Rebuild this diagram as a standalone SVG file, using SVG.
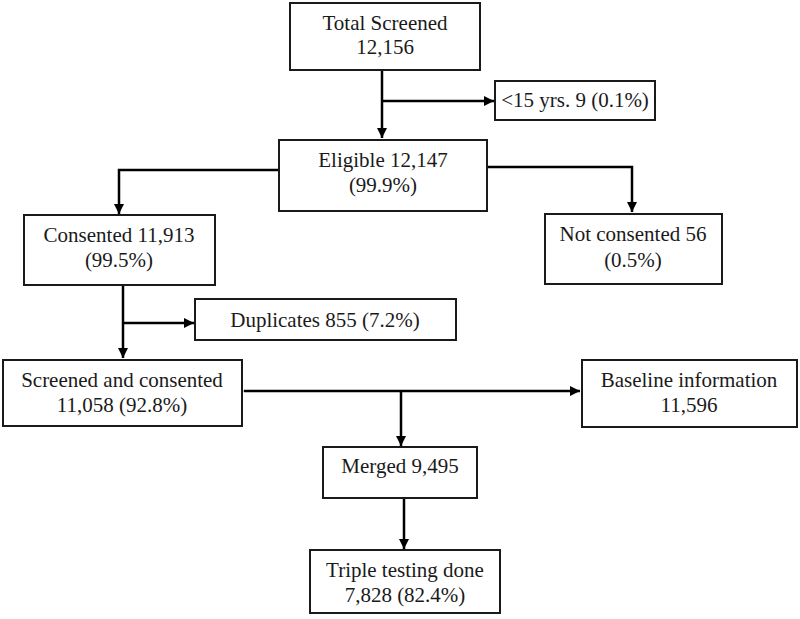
<svg xmlns="http://www.w3.org/2000/svg" width="800" height="619" viewBox="0 0 800 619">
<style>
.box{fill:#fff;stroke:#1a1a1a;stroke-width:2}
.t{font-family:"Liberation Serif","Times New Roman",serif;font-size:21px;fill:#1a1a1a;text-anchor:middle}
.c{fill:none;stroke:#000;stroke-width:2.5}
</style>
<defs>
<marker id="ah" viewBox="0 0 10 10" refX="10" refY="5" markerWidth="4" markerHeight="4" markerUnits="strokeWidth" orient="auto">
<path d="M0,0 L10,5 L0,10 z" fill="#000"/>
</marker>
</defs>
<rect width="800" height="619" fill="#fff"/>
<g id="connectors">
<path class="c" d="M382,70 V138" marker-end="url(#ah)"/>
<path class="c" d="M382,101 H494" marker-end="url(#ah)"/>
<path class="c" d="M279,170 H119 V214" marker-end="url(#ah)"/>
<path class="c" d="M487,167 H632 V212" marker-end="url(#ah)"/>
<path class="c" d="M123,285 V358" marker-end="url(#ah)"/>
<path class="c" d="M123,323 H194" marker-end="url(#ah)"/>
<path class="c" d="M244,391 H580" marker-start="url(#ah)" marker-end="url(#ah)"/>
<path class="c" d="M401,391 V446" marker-end="url(#ah)"/>
<path class="c" d="M404,498 V549" marker-end="url(#ah)"/>
</g>
<g id="total">
<rect class="box" x="290" y="3" width="190" height="67"/>
<text class="t" x="385" y="30">Total Screened</text>
<text class="t" x="385" y="54">12,156</text>
</g>
<g id="under15">
<rect class="box" x="495" y="81" width="160" height="39"/>
<text class="t" x="575" y="107">&lt;15 yrs. 9 (0.1%)</text>
</g>
<g id="eligible">
<rect class="box" x="279" y="140" width="208" height="71"/>
<text class="t" x="383" y="167">Eligible 12,147</text>
<text class="t" x="383" y="192">(99.9%)</text>
</g>
<g id="consented">
<rect class="box" x="24" y="215" width="191" height="70"/>
<text class="t" x="119" y="242">Consented 11,913</text>
<text class="t" x="119" y="267">(99.5%)</text>
</g>
<g id="notconsented">
<rect class="box" x="545" y="214" width="177" height="70"/>
<text class="t" x="633" y="241">Not consented 56</text>
<text class="t" x="633" y="267">(0.5%)</text>
</g>
<g id="duplicates">
<rect class="box" x="195" y="299" width="261" height="41"/>
<text class="t" x="325" y="327">Duplicates 855 (7.2%)</text>
</g>
<g id="screened">
<rect class="box" x="3" y="360" width="239" height="66"/>
<text class="t" x="122" y="387">Screened and consented</text>
<text class="t" x="122" y="412">11,058 (92.8%)</text>
</g>
<g id="baseline">
<rect class="box" x="582" y="360" width="215" height="67"/>
<text class="t" x="689" y="387">Baseline information</text>
<text class="t" x="689" y="412">11,596</text>
</g>
<g id="merged">
<rect class="box" x="323" y="447" width="154" height="51"/>
<text class="t" x="400" y="473">Merged 9,495</text>
</g>
<g id="triple">
<rect class="box" x="310" y="550" width="190" height="63"/>
<text class="t" x="405" y="577">Triple testing done</text>
<text class="t" x="405" y="602">7,828 (82.4%)</text>
</g>
</svg>
